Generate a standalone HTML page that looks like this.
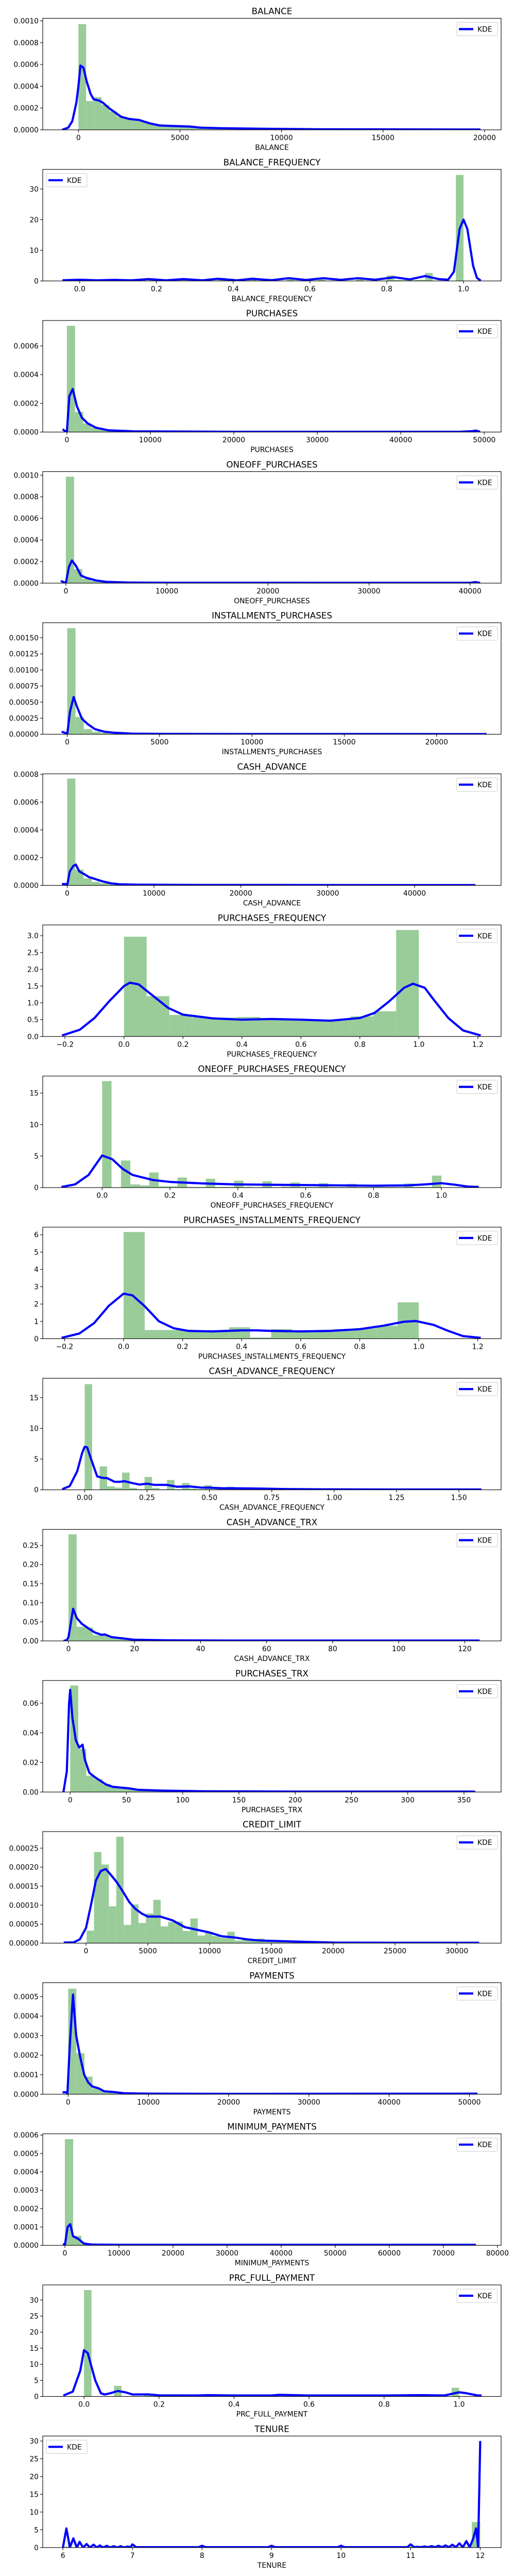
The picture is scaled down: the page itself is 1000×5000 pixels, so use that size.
<!DOCTYPE html>
<html><head><meta charset="utf-8"><title>Distributions</title>
<style>
html,body{margin:0;padding:0;background:#fff;}
svg{display:block;font-family:"DejaVu Sans","Liberation Sans",sans-serif;}
</style></head>
<body>
<svg id="fig" width="1000" height="5000" viewBox="0 0 1000 5000" xmlns="http://www.w3.org/2000/svg"></svg>
<script>
const titles = ["BALANCE","BALANCE_FREQUENCY","PURCHASES","ONEOFF_PURCHASES","INSTALLMENTS_PURCHASES","CASH_ADVANCE","PURCHASES_FREQUENCY","ONEOFF_PURCHASES_FREQUENCY","PURCHASES_INSTALLMENTS_FREQUENCY","CASH_ADVANCE_FREQUENCY","CASH_ADVANCE_TRX","PURCHASES_TRX","CREDIT_LIMIT","PAYMENTS","MINIMUM_PAYMENTS","PRC_FULL_PAYMENT","TENURE"];
const xMin = [-1756,-0.0964,-2888,-2288,-1324,-2814,-0.2755,-0.175,-0.274,-0.168,-7.8,-24.4,-3500,-3169,-4092,-0.11,5.71];
const xMax = [20813,1.098,52017,43072,23489,49962,1.279,1.176,1.279,1.669,131,383,33580,53951,80671,1.112,12.30];
const yMax = [0.001024,36.4,0.000777,0.001033,0.001734,0.000804,3.32,17.7,6.44,18.15,0.292,0.0753,0.0002936,0.000571,0.000607,34.7,31.4];
const legendLoc = ["right","left","right","right","right","right","right","right","right","right","right","right","right","right","right","right","left"];
const binStart = [0,0,0,0,0,0,0,0,0,0,0,0,50,0,0,0,6];
const binWidth = [381,0.02,981,815,450,943,0.076923,0.027778,0.0714286,0.03,2.46,7.16,599,1014,1528,0.02,0.12];
const histHeights = [
 [0.00097,0.000264,0.0003,0.00023,0.00017,0.00012,0.0001,0.0001,0.00008,0.00006,0.00005,0.00004,0.00004,0.00004,0.000035,0.00003,0.00002,0.000018,0.000015,0.000012,0.00001,0.000009,0.000008,0.000007,0.000006,0.000005,0.000004,0.000004,0.000003,0.000003,0.000002,0.000002,0.000002,0.000001,0.000001,0.000001],
 [0.4,0,0,0,0.3,0.2,0,0,0,0.6,0,0,0,0.6,0,0,0,0,1.0,0,0,0,1.0,0,0,0,0,1.1,0,0,0,1.1,0,0,0,0,1.1,0,0,0,1.8,0.3,0.3,0.3,0.4,2.6,0,0,0,34.6],
 [0.00074,0.00014,0.00006,0.00003,0.000018,0.000012,0.000008,0.000006,0.000004,0.000003,0.000002,0.000002,0.000002,0.000001,0.000001],
 [0.000986,0.00013,0.00004,0.00002,0.00001,0.000006,0.000004,0.000003,0.000002],
 [0.00165,0.00027,0.00008,0.00004,0.00002,0.00001,0.000006,0.000004,0.000003,0.000002],
 [0.00077,0.000114,0.00005,0.000025,0.000015,0.000008,0.000005,0.000003,0.000002,0.000002],
 [2.97,1.2,0.64,0.57,0.56,0.58,0.55,0.5,0.5,0.5,0.6,0.75,3.17],
 [16.9,0,4.3,0.5,0.35,2.4,0.2,0.2,1.6,0.1,0.1,1.4,0.1,0.1,1.1,0.1,0.05,1.0,0.05,0.15,0.8,0.1,0.1,0.7,0.1,0.1,0.6,0.1,0.1,0.45,0.1,0.1,0.65,0.1,0.1,1.9],
 [6.16,0.5,0.5,0.45,0.45,0.66,0.07,0.55,0.45,0.45,0.55,0.6,0.75,2.1],
 [17.2,0,3.8,0.55,0.35,2.8,0.3,0.1,2.1,0.3,0.1,1.6,0.1,1.1,0.2,0.1,0.75,0.1,0.1,0.5,0.15,0.15,0.3,0.05,0.05],
 [0.279,0.037,0.035,0.015,0.015,0.008,0.005,0.003,0.002,0.0015,0.001,0.0008,0.0005,0.0004,0.0003],
 [0.0719,0.0291,0.011,0.0088,0.0055,0.004,0.003,0.0022,0.0015,0.0012,0.001,0.0008,0.0006,0.0005,0.0004,0.0003,0.0003,0.0002,0.0002],
 [0.000033,0.00024,0.000207,0.000097,0.00028,0.000048,0.000102,0.000053,0.000078,0.000114,0.000044,0.000056,0.000057,0.000032,0.000065,0.00002,0.000028,0.000019,0.000014,0.00003,0.000007,0.000012,0.000008,0.000012,0.000004,0.000003,0.000003,0.000002,0.000002,0.000002,0.000001,0.000001,0.000001],
 [0.00054,0.00021,0.00009,0.00003,0.000018,0.000012,0.000008,0.000006,0.000004,0.000003,0.000002,0.000002],
 [0.000578,0.000052,0.00001,0.000004,0.000002,0.000001],
 [33.1,0,0,0,3.3,0.1,0.1,0.1,0.4,0.1,0.1,0.1,0.5,0.1,0.1,0.1,0.3,0.1,0.1,0.1,0.1,0.1,0.1,0.1,0.1,0.5,0.1,0.1,0.1,0.1,0.1,0.1,0.1,0.2,0.1,0.1,0.1,0.2,0.1,0.1,0.1,0.1,0.1,0.1,0.1,0.1,0.1,0.1,0.1,2.7],
 [0.3,0,0,0,0,0,0,0,0.25,0,0,0,0,0,0,0,0.2,0,0,0,0,0,0,0,0,0.2,0,0,0,0,0,0,0,0.25,0,0,0,0,0,0,0,0.35,0.1,0.1,0.15,0.15,0.2,0.25,0.3,7.2]
];
const kdeX = [
 [-800,-500,-300,-100,0,100,250,400,600,750,1000,1200,1500,1800,2100,2500,3000,3500,4000,5000,5500,6000,7000,9000,12000,19800],
 [-0.045,0,0.045,0.09,0.135,0.18,0.225,0.27,0.32,0.36,0.41,0.45,0.5,0.545,0.59,0.635,0.68,0.725,0.77,0.82,0.86,0.9,0.935,0.96,0.975,0.99,1.0,1.01,1.025,1.035,1.045],
 [-500,-300,0,300,700,1200,1800,2500,3500,5000,8000,20000,47000,48500,49000,49500],
 [-500,-200,0,300,600,1000,1500,2000,3000,4000,6000,10000,30000,40000,40500,41000],
 [-300,-100,0,150,350,500,800,1100,1500,2000,2500,3500,5000,10000,22000,22700],
 [-600,-200,0,300,700,1000,1400,2000,2500,3000,4000,5000,6000,8000,15000,40000,47000],
 [-0.21,-0.15,-0.1,-0.05,0,0.02,0.05,0.1,0.15,0.2,0.3,0.4,0.5,0.6,0.7,0.8,0.85,0.9,0.95,0.98,1.02,1.05,1.1,1.15,1.21],
 [-0.12,-0.08,-0.04,0,0.03,0.06,0.09,0.15,0.2,0.3,0.4,0.5,0.6,0.7,0.8,0.9,0.95,1.0,1.04,1.08,1.11],
 [-0.21,-0.15,-0.1,-0.05,0,0.03,0.07,0.12,0.17,0.22,0.3,0.4,0.45,0.5,0.6,0.7,0.8,0.88,0.95,0.99,1.05,1.1,1.15,1.21],
 [-0.09,-0.06,-0.03,-0.01,0,0.01,0.03,0.05,0.07,0.09,0.12,0.14,0.16,0.19,0.22,0.25,0.28,0.33,0.37,0.42,0.47,0.5,0.55,0.6,0.7,0.8,1.0,1.2,1.59],
 [-1.5,-0.5,0,1.4,2.5,4,6,8,10,11,13,16,20,30,50,124.5],
 [-6,-3,-1,0,2,5,8,11,13,17,22,27,32,38,45,52,60,80,120,200,358,360],
 [-1800,-1000,-500,0,400,800,1200,1600,2000,2500,3000,3500,4000,4500,5000,6000,7000,8000,9000,10000,11000,12000,13000,14000,15000,17000,20000,25000,31800],
 [-700,-200,-100,200,600,800,1000,1500,2000,2500,3000,3800,4500,5500,7000,10000,20000,51000],
 [-300,0,500,1000,1500,2500,3500,5000,10000,76000],
 [-0.055,-0.03,-0.01,0,0.01,0.03,0.045,0.055,0.07,0.09,0.11,0.13,0.17,0.2,0.3,0.33,0.4,0.5,0.52,0.6,0.8,0.9,0.96,0.98,1.0,1.02,1.05,1.06],
 [6,6.05,6.1,6.15,6.2,6.24,6.29,6.34,6.39,6.44,6.49,6.53,6.58,6.63,6.68,6.73,6.78,6.83,6.88,6.93,6.97,7,7.05,7.95,8,8.05,8.95,9,9.05,9.95,10,10.05,10.95,11,11.05,11.1,11.15,11.2,11.25,11.3,11.35,11.4,11.45,11.5,11.55,11.6,11.65,11.7,11.75,11.8,11.85,11.9,11.94,11.97,12]
];
const kdeY = [
 [0,0.00002,0.00008,0.00025,0.0004,0.00059,0.00057,0.00045,0.00033,0.00028,0.00027,0.00025,0.0002,0.00016,0.00012,0.0001,0.00009,0.00006,0.00004,0.000033,0.00003,0.00002,0.000015,0.00001,0.000005,0.000003],
 [0.2,0.4,0.2,0.35,0.2,0.6,0.2,0.6,0.2,0.7,0.2,0.7,0.25,0.9,0.3,0.9,0.35,0.9,0.4,1.2,0.5,1.6,0.6,0.4,3,17,20,17,5,1,0.1],
 [0.00002,0.00001,0,0.00025,0.0003,0.00018,0.0001,0.00006,0.00003,0.000012,0.000005,0.000002,0.000002,0.000006,0.00001,0.000002],
 [0.00002,0.00001,0,0.00015,0.00021,0.00016,0.00007,0.00005,0.000025,0.000012,0.000006,0.000004,0.000003,0.000003,0.00001,0.000002],
 [0.00004,0.00002,0,0.00035,0.00058,0.00045,0.00024,0.00016,0.00008,0.00004,0.000025,0.00001,0.000006,0.000004,0.000003,0.000004],
 [0.00001,0.00001,0,0.0001,0.00014,0.00015,0.0001,0.00008,0.00006,0.00005,0.00003,0.000015,0.000008,0.000005,0.000003,0.000002,0.000002],
 [0.03,0.2,0.55,1.05,1.5,1.6,1.55,1.2,0.85,0.65,0.54,0.5,0.52,0.5,0.47,0.55,0.7,1.05,1.45,1.57,1.45,1.1,0.55,0.18,0.03],
 [0.1,0.5,2,5.1,4.5,3,2,1.2,0.9,0.65,0.5,0.45,0.4,0.35,0.3,0.35,0.5,0.7,0.45,0.15,0.1],
 [0.05,0.3,0.9,1.9,2.6,2.5,1.9,1.0,0.6,0.45,0.42,0.48,0.48,0.45,0.42,0.45,0.55,0.75,0.98,1.02,0.8,0.45,0.15,0.05],
 [0.1,0.6,3,6,7,6.9,4.5,2.2,1.95,1.9,1.3,1.3,1.4,1.1,0.85,1.0,0.8,0.8,0.5,0.55,0.35,0.35,0.25,0.25,0.2,0.12,0.07,0.05,0.05],
 [0,0.002,0.01,0.084,0.06,0.045,0.033,0.022,0.016,0.017,0.01,0.007,0.003,0.0015,0.0008,0.0008],
 [0,0.014,0.06,0.069,0.05,0.035,0.03,0.032,0.022,0.013,0.01,0.0075,0.005,0.0035,0.003,0.0025,0.0015,0.001,0.0005,0.0003,0.0003,0.0001],
 [0.0000015,0.000002,0.00001,0.00004,0.0001,0.000165,0.00019,0.000195,0.00018,0.00016,0.000135,0.000108,0.00009,0.000078,0.00007,0.00007,0.00006,0.000042,0.000035,0.000028,0.000018,0.000015,0.00001,0.000007,0.000006,0.000004,0.0000015,0.000001,0.000001],
 [0.00001,0.00001,0,0.00025,0.00051,0.0004,0.0003,0.00019,0.0001,0.00006,0.00004,0.00003,0.000015,0.000012,0.000005,0.000003,0.000002,0.000003],
 [0.00001,0,0.0001,0.000115,0.00005,0.000035,0.00001,0.000004,0.000003,0.000003],
 [0.3,1.5,8,14.4,13.5,5,1,0.6,1,1.7,1.3,0.6,0.65,0.35,0.3,0.4,0.3,0.3,0.5,0.3,0.3,0.4,0.3,0.8,1.3,1.0,0.3,0.3],
 [0,5.4,0,2.6,0,1.6,0,1,0,0.8,0,0.6,0,0.5,0,0.4,0,0.4,0,0.3,0.1,0.9,0.1,0.1,0.5,0.1,0.1,0.5,0.1,0.1,0.5,0.1,0.1,0.9,0.1,0.2,0.1,0.3,0.1,0.4,0.1,0.5,0.1,0.6,0.1,0.8,0.1,1.2,0.1,1.8,0.1,2.6,5.4,0.1,30]
];
const xTicks = [
 [0,5000,10000,15000,20000],[0,0.2,0.4,0.6,0.8,1.0],[0,10000,20000,30000,40000,50000],[0,10000,20000,30000,40000],
 [0,5000,10000,15000,20000],[0,10000,20000,30000,40000],[-0.2,0,0.2,0.4,0.6,0.8,1.0,1.2],[0,0.2,0.4,0.6,0.8,1.0],
 [-0.2,0,0.2,0.4,0.6,0.8,1.0,1.2],[0,0.25,0.5,0.75,1.0,1.25,1.5],[0,20,40,60,80,100,120],[0,50,100,150,200,250,300,350],
 [0,5000,10000,15000,20000,25000,30000],[0,10000,20000,30000,40000,50000],[0,10000,20000,30000,40000,50000,60000,70000,80000],
 [0,0.2,0.4,0.6,0.8,1.0],[6,7,8,9,10,11,12]
];
const xTickLabels = [
 ["0","5000","10000","15000","20000"],["0.0","0.2","0.4","0.6","0.8","1.0"],["0","10000","20000","30000","40000","50000"],["0","10000","20000","30000","40000"],
 ["0","5000","10000","15000","20000"],["0","10000","20000","30000","40000"],["\u22120.2","0.0","0.2","0.4","0.6","0.8","1.0","1.2"],["0.0","0.2","0.4","0.6","0.8","1.0"],
 ["\u22120.2","0.0","0.2","0.4","0.6","0.8","1.0","1.2"],["0.00","0.25","0.50","0.75","1.00","1.25","1.50"],["0","20","40","60","80","100","120"],["0","50","100","150","200","250","300","350"],
 ["0","5000","10000","15000","20000","25000","30000"],["0","10000","20000","30000","40000","50000"],["0","10000","20000","30000","40000","50000","60000","70000","80000"],
 ["0.0","0.2","0.4","0.6","0.8","1.0"],["6","7","8","9","10","11","12"]
];
const yTicks = [
 [0,0.0002,0.0004,0.0006,0.0008,0.001],[0,10,20,30],[0,0.0002,0.0004,0.0006],[0,0.0002,0.0004,0.0006,0.0008,0.001],
 [0,0.00025,0.0005,0.00075,0.001,0.00125,0.0015],[0,0.0002,0.0004,0.0006,0.0008],[0,0.5,1,1.5,2,2.5,3],[0,5,10,15],
 [0,1,2,3,4,5,6],[0,5,10,15],[0,0.05,0.1,0.15,0.2,0.25],[0,0.02,0.04,0.06],
 [0,0.00005,0.0001,0.00015,0.0002,0.00025],[0,0.0001,0.0002,0.0003,0.0004,0.0005],[0,0.0001,0.0002,0.0003,0.0004,0.0005,0.0006],
 [0,5,10,15,20,25,30],[0,5,10,15,20,25,30]
];
const yTickLabels = [
 ["0.0000","0.0002","0.0004","0.0006","0.0008","0.0010"],["0","10","20","30"],["0.0000","0.0002","0.0004","0.0006"],["0.0000","0.0002","0.0004","0.0006","0.0008","0.0010"],
 ["0.00000","0.00025","0.00050","0.00075","0.00100","0.00125","0.00150"],["0.0000","0.0002","0.0004","0.0006","0.0008"],["0.0","0.5","1.0","1.5","2.0","2.5","3.0"],["0","5","10","15"],
 ["0","1","2","3","4","5","6"],["0","5","10","15"],["0.00","0.05","0.10","0.15","0.20","0.25"],["0.00","0.02","0.04","0.06"],
 ["0.00000","0.00005","0.00010","0.00015","0.00020","0.00025"],["0.0000","0.0001","0.0002","0.0003","0.0004","0.0005"],["0.0000","0.0001","0.0002","0.0003","0.0004","0.0005","0.0006"],
 ["0","5","10","15","20","25","30"],["0","5","10","15","20","25","30"]
];

const NS = "http://www.w3.org/2000/svg";
const svg = document.getElementById("fig");
const AX_L = 83, AX_R = 973, AX_H = 216.5, TOP0 = 35.5, PITCH = 293.3;
function mk(tag, attrs, parent) {
  const e = document.createElementNS(NS, tag);
  for (const k in attrs) e.setAttribute(k, attrs[k]);
  parent.appendChild(e);
  return e;
}
for (let i = 0; i < titles.length; i++) {
  const top = TOP0 + i * PITCH, bot = top + AX_H;
  const sx = v => AX_L + (v - xMin[i]) / (xMax[i] - xMin[i]) * (AX_R - AX_L);
  const sy = v => bot - v / yMax[i] * AX_H;
  const g = mk("g", {}, svg);
  
  
  const cp = mk("clipPath", {id: "cp" + i}, g);
  mk("rect", {x: AX_L, y: top, width: AX_R - AX_L, height: AX_H}, cp);
  const t = mk("text", {x: (AX_L + AX_R) / 2, y: top - 8, "text-anchor": "middle", "font-size": "16.7", fill: "#000"}, g);
  t.textContent = titles[i];
  
  
  // histogram
  const hg = mk("g", {"clip-path": "url(#cp" + i + ")"}, g);
  
  
  histHeights[i].forEach((h, k) => {
    if (h <= 0) return;
    const x0 = sx(binStart[i] + k * binWidth[i]), x1 = sx(binStart[i] + (k + 1) * binWidth[i]);
    const r = mk("rect", {x: x0, y: sy(h), width: Math.max(0, x1 - x0), height: bot - sy(h), fill: "#99cc99"}, hg);
    
    
  });
  // kde
  let d = "";
  kdeX[i].forEach((xv, k) => { d += (k ? "L" : "M") + sx(xv).toFixed(2) + " " + sy(kdeY[i][k]).toFixed(2); });
  const kp = mk("path", {d: d, fill: "none", stroke: "#0000ff", "stroke-width": "4.2", "stroke-linejoin": "round", "stroke-linecap": "butt", "clip-path": "url(#cp" + i + ")"}, g);
  
  
  // spines
  const fr = mk("rect", {x: AX_L, y: top, width: AX_R - AX_L, height: AX_H, fill: "none", stroke: "#000", "stroke-width": "1.1"}, g);
  
  
  // x ticks
  const xg = mk("g", {}, g);
  
  
  xTicks[i].forEach((v, k) => {
    const x = sx(v);
    mk("line", {x1: x, x2: x, y1: bot, y2: bot + 4.9, stroke: "#000", "stroke-width": "1.1"}, xg);
    const tl = mk("text", {x: x, y: bot + 20, "text-anchor": "middle", "font-size": "13.9", fill: "#000"}, xg);
    tl.textContent = xTickLabels[i][k];
    
    
  });
  const xl = mk("text", {x: (AX_L + AX_R) / 2, y: bot + 39, "text-anchor": "middle", "font-size": "13.9", fill: "#000"}, xg);
  xl.textContent = titles[i];
  
  
  // y ticks
  const yg = mk("g", {}, g);
  
  
  yTicks[i].forEach((v, k) => {
    const y = sy(v);
    mk("line", {x1: AX_L - 4.9, x2: AX_L, y1: y, y2: y, stroke: "#000", "stroke-width": "1.1"}, yg);
    const tl = mk("text", {x: AX_L - 8, y: y + 5, "text-anchor": "end", "font-size": "13.9", fill: "#000"}, yg);
    tl.textContent = yTickLabels[i][k];
    
    
  });
  // legend
  const lx = legendLoc[i] === "left" ? 90 : 887;
  const lg = mk("g", {}, g);
  
  
  mk("rect", {x: lx, y: top + 8, width: 79, height: 26, rx: 2, fill: "#fff", "fill-opacity": "0.8", stroke: "#cccccc", "stroke-width": "1"}, lg);
  mk("line", {x1: lx + 4, x2: lx + 32, y1: top + 21, y2: top + 21, stroke: "#0000ff", "stroke-width": "4.2"}, lg);
  const lt = mk("text", {x: lx + 40, y: top + 26, "font-size": "13.9", fill: "#000"}, lg);
  lt.textContent = "KDE";
  
  
}
</script>
</body></html>
